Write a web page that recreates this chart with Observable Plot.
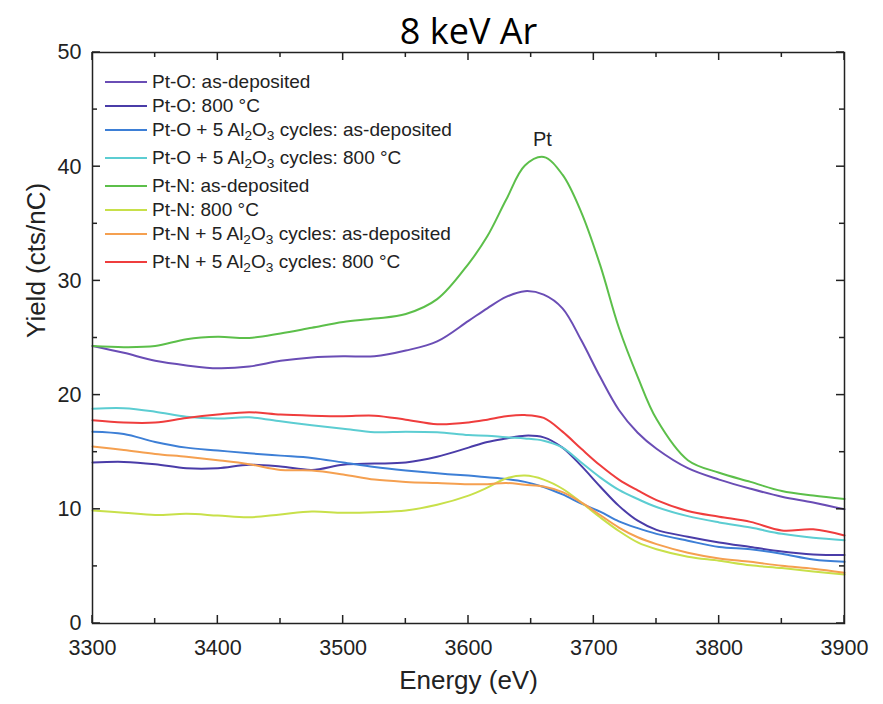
<!DOCTYPE html>
<html>
<head>
<meta charset="utf-8">
<script src="https://cdn.jsdelivr.net/npm/d3@7"></script>
<script src="https://cdn.jsdelivr.net/npm/@observablehq/plot@0.6"></script>
<style>
  html, body { margin: 0; padding: 0; background: #fff; }
  #wrap { position: relative; width: 883px; height: 704px; font-family: "Liberation Sans", Arial, sans-serif; }
  #legend { position: absolute; left: 105px; top: 70px; color: #222; font-size: 19px; }
  .row { display: flex; align-items: center; height: 24px; white-space: nowrap; }
  .row.sub { margin-bottom: 4px; }
  .sw { display: inline-block; width: 42px; border-top: 2px solid; margin-right: 5px; }
  .row sub { font-size: 0.72em; vertical-align: -0.3em; line-height: 0; }
  .txt { line-height: 24px; }
</style>
</head>
<body>
<div id="wrap"><div id="chart"></div><div id="legend"></div></div>
<script>
// ---- data ----
const energy = [3300,3325,3350,3375,3400,3425,3450,3475,3500,3525,3550,3575,
                3600,3615,3630,3645,3660,3675,3690,3705,3720,3735,3750,
                3775,3800,3825,3850,3875,3900];

const ptO_asDep = [24.3,23.7,23.0,22.6,22.35,22.5,23.0,23.3,23.4,23.4,23.9,24.7,
                   26.5,27.6,28.6,29.1,28.8,27.6,24.8,21.6,18.7,16.7,15.3,
                   13.6,12.6,11.8,11.1,10.6,10.0];
const ptO_800 = [14.1,14.15,13.95,13.6,13.6,13.9,13.75,13.45,13.9,14.0,14.1,14.6,
                 15.4,15.9,16.2,16.45,16.3,15.4,13.8,12.0,10.3,9.0,8.2,
                 7.6,7.1,6.7,6.3,6.05,6.0];
const ptO5_asDep = [16.8,16.6,15.9,15.4,15.15,14.9,14.7,14.5,14.1,13.7,13.4,13.15,
                    12.95,12.8,12.65,12.4,11.95,11.3,10.5,9.8,8.95,8.35,7.85,
                    7.25,6.7,6.5,6.1,5.6,5.4];
const ptO5_800 = [18.8,18.85,18.55,18.1,17.95,18.05,17.7,17.35,17.05,16.75,16.8,16.75,
                  16.5,16.45,16.3,16.2,16.0,15.4,14.1,12.8,11.7,10.9,10.2,
                  9.4,8.85,8.4,7.85,7.5,7.3];
const ptN_asDep = [24.3,24.2,24.3,24.9,25.1,25.0,25.4,25.9,26.4,26.7,27.1,28.4,
                   31.5,33.9,37.1,40.1,40.85,39.3,36.0,31.4,25.9,21.6,17.9,
                   14.3,13.2,12.4,11.6,11.2,10.9];
const ptN_800 = [9.9,9.7,9.5,9.6,9.45,9.3,9.55,9.8,9.7,9.75,9.9,10.4,
                 11.2,11.9,12.7,12.95,12.6,11.8,10.6,9.3,8.1,7.1,6.5,
                 5.85,5.5,5.1,4.85,4.55,4.3];
const ptN5_asDep = [15.5,15.2,14.85,14.6,14.3,13.95,13.45,13.4,13.05,12.6,12.4,12.3,
                    12.2,12.2,12.3,12.15,12.0,11.5,10.6,9.5,8.4,7.55,6.95,
                    6.2,5.7,5.4,5.05,4.8,4.45];
const ptN5_800 = [17.8,17.6,17.6,18.0,18.3,18.5,18.3,18.2,18.15,18.2,17.85,17.45,
                  17.6,17.85,18.15,18.25,18.0,16.8,15.3,13.85,12.6,11.65,10.8,
                  9.85,9.35,8.9,8.15,8.25,7.7];

const seriesNames = [
  "Pt-O: as-deposited",
  "Pt-O: 800 °C",
  "Pt-O + 5 Al2O3 cycles: as-deposited",
  "Pt-O + 5 Al2O3 cycles: 800 °C",
  "Pt-N: as-deposited",
  "Pt-N: 800 °C",
  "Pt-N + 5 Al2O3 cycles: as-deposited",
  "Pt-N + 5 Al2O3 cycles: 800 °C"
];
const seriesValues = [ptO_asDep, ptO_800, ptO5_asDep, ptO5_800, ptN_asDep, ptN_800, ptN5_asDep, ptN5_800];
const seriesColors = ["#6a4db5", "#4a3ca8", "#3d7fd6", "#5ccdd2", "#5cbf4a", "#c8e04a", "#f5a050", "#ef3d3d"];

const xTicks = [3300,3400,3500,3600,3700,3800,3900];
const xMinor = [3350,3450,3550,3650,3750,3850];
const yTicks = [0,10,20,30,40,50];
const yMinor = [5,15,25,35,45];
const peakLabel = [{label: "Pt", energy: 3659, yield: 42.4}];

const titleText = "8 keV Ar";
const xTitle = "Energy (eV)";
const yTitle = "Yield (cts/nC)";

// ---- layout ----
const W = 883, H = 704;
const mL = 92, mR = 39, mT = 52, mB = 81;
const ink = "#222";

const rows = [];
seriesValues.forEach((vals, s) => {
  vals.forEach((v, i) => rows.push({series: seriesNames[s], energy: energy[i], yield: v}));
});

const lineMarks = seriesNames.map((name, s) =>
  Plot.line(rows.filter(d => d.series === name), {
    x: "energy", y: "yield", stroke: seriesColors[s], strokeWidth: 2, curve: "catmull-rom"
  })
);

const chart = Plot.plot({
  width: W, height: H,
  marginLeft: mL, marginRight: mR, marginTop: mT, marginBottom: mB,
  style: {fontFamily: "'Liberation Sans', Arial, sans-serif", color: ink, background: "#fff"},
  x: {domain: [3300, 3900]},
  y: {domain: [0, 50]},
  marks: [
    ...lineMarks,
    Plot.frame({stroke: ink, strokeWidth: 1.5}),
    Plot.axisX(xTicks, {tickSize: 0, tickPadding: 16, fontSize: 21.5, label: null, tickFormat: d => String(d)}),
    Plot.axisY(yTicks, {tickSize: 0, tickPadding: 11, fontSize: 21.5, label: null}),
    Plot.text([xTitle], {frameAnchor: "bottom", dy: 65, fontSize: 26, text: d => d, fill: ink}),
    Plot.text([yTitle], {frameAnchor: "left", dx: -56, rotate: -90, fontSize: 26, text: d => d, fill: ink}),
    Plot.text(peakLabel, {x: "energy", y: "yield", text: "label", fontSize: 20, fill: ink}),
    Plot.text([titleText], {frameAnchor: "top", dy: -9, lineAnchor: "bottom", fontSize: 36,
                            fontFamily: "'Open Sans', sans-serif", text: d => d, fill: "#000"})
  ]
});
document.getElementById("chart").appendChild(chart);

// ---- inward tick marks on all four sides, placed with Plot's own scales ----
const sx = chart.scale("x"), sy = chart.scale("y");
const x0 = sx.apply(3300), x1 = sx.apply(3900), y0 = sy.apply(0), y1 = sy.apply(50);
const g = d3.select(chart).append("g").attr("stroke", ink).attr("stroke-width", 1.5);
const addX = (vals, len) => vals.forEach(v => {
  const px = sx.apply(v);
  g.append("line").attr("x1", px).attr("x2", px).attr("y1", y0).attr("y2", y0 - len);
  g.append("line").attr("x1", px).attr("x2", px).attr("y1", y1).attr("y2", y1 + len);
});
const addY = (vals, len) => vals.forEach(v => {
  const py = sy.apply(v);
  g.append("line").attr("y1", py).attr("y2", py).attr("x1", x0).attr("x2", x0 + len);
  g.append("line").attr("y1", py).attr("y2", py).attr("x1", x1).attr("x2", x1 - len);
});
addX(xTicks, 8); addX(xMinor, 5);
addY(yTicks, 8); addY(yMinor, 5);

// ---- legend (HTML overlay, for real subscripts) ----
const legend = document.getElementById("legend");
seriesNames.forEach((name, s) => {
  const row = document.createElement("div");
  row.className = "row" + (name.includes("Al2O3") ? " sub" : "");
  const sw = document.createElement("span");
  sw.className = "sw";
  sw.style.borderTopColor = seriesColors[s];
  const txt = document.createElement("span");
  txt.className = "txt";
  name.split(/(Al2O3)/).forEach(part => {
    if (part === "Al2O3") {
      txt.append("Al");
      const s2 = document.createElement("sub"); s2.textContent = "2"; txt.append(s2);
      txt.append("O");
      const s3 = document.createElement("sub"); s3.textContent = "3"; txt.append(s3);
    } else if (part) {
      txt.append(part);
    }
  });
  row.append(sw, txt);
  legend.append(row);
});
</script>
</body>
</html>
